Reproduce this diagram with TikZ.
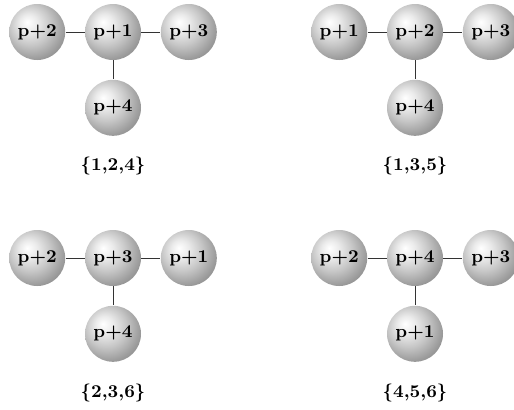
\documentclass[tikz,border=0pt]{standalone}
\usetikzlibrary{positioning}

\pgfdeclareradialshading{silverball}{\pgfpoint{-9bp}{9bp}}{%
  color(0bp)=(white); color(8bp)=(black!8); color(18bp)=(black!22);
  color(28bp)=(black!38); color(38bp)=(black!52); color(60bp)=(black!60)}

\tikzset{
  ball/.style={circle, shading=silverball, minimum size=28pt, inner sep=0pt, font=\small\bfseries},
  link/.style={black!80, thin},
  setlabel/.style={font=\small\bfseries}
}

\begin{document}
\begin{tikzpicture}[x=0.5pt,y=-0.5pt,node distance=9.5pt]
  \useasboundingbox (0,0) rectangle (514,409);
  \clip (0,0) rectangle (514,409);

  % top left
  \node[ball] (a1) at (113,32) {p+1};
  \node[ball, left=of a1] (a2) {p+2};
  \node[ball, right=of a1] (a3) {p+3};
  \node[ball, below=of a1] (a4) {p+4};
  \node[setlabel] (la) at (113,166) {\{1,2,4\}};
  \draw[link] (a2) -- (a1);
  \draw[link] (a1) -- (a3);
  \draw[link] (a1) -- (a4);

  % top right
  \node[ball] (b2) at (415,32) {p+2};
  \node[ball, left=of b2] (b1) {p+1};
  \node[ball, right=of b2] (b3) {p+3};
  \node[ball, below=of b2] (b4) {p+4};
  \node[setlabel] (lb) at (415,166) {\{1,3,5\}};
  \draw[link] (b1) -- (b2);
  \draw[link] (b2) -- (b3);
  \draw[link] (b2) -- (b4);

  % bottom left
  \node[ball] (c3) at (113,258) {p+3};
  \node[ball, left=of c3] (c2) {p+2};
  \node[ball, right=of c3] (c1) {p+1};
  \node[ball, below=of c3] (c4) {p+4};
  \node[setlabel] (lc) at (113,393) {\{2,3,6\}};
  \draw[link] (c2) -- (c3);
  \draw[link] (c3) -- (c1);
  \draw[link] (c3) -- (c4);

  % bottom right
  \node[ball] (d4) at (415,258) {p+4};
  \node[ball, left=of d4] (d2) {p+2};
  \node[ball, right=of d4] (d3) {p+3};
  \node[ball, below=of d4] (d1) {p+1};
  \node[setlabel] (ld) at (415,393) {\{4,5,6\}};
  \draw[link] (d2) -- (d4);
  \draw[link] (d4) -- (d3);
  \draw[link] (d4) -- (d1);
\end{tikzpicture}
\end{document}
